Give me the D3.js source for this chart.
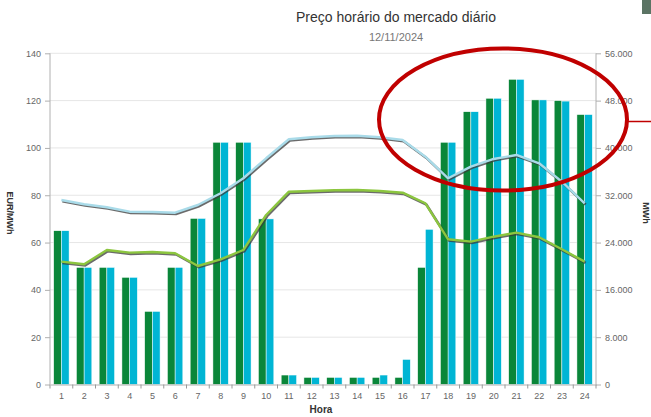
<!DOCTYPE html>
<html>
<head>
<meta charset="utf-8">
<script src="https://cdn.jsdelivr.net/npm/d3@7"></script>
<style>
  body { margin: 0; background: #fff; }
  svg { display: block; font-family: "Liberation Sans", Arial, sans-serif; }
</style>
</head>
<body>
<script>
/***********************************************************************************/
// Data

var horas = d3.range(1, 25);
var precoPT = [65, 49.5, 49.5, 45.3, 30.9, 49.5, 70.2, 102.4, 102.4, 70, 4, 3, 3, 3, 3, 3, 49.5, 102.4, 115.3, 121, 129, 120.3, 120, 114.1];
var precoES = [65, 49.5, 49.5, 45.3, 30.9, 49.5, 70.2, 102.4, 102.4, 70, 4, 3, 3, 3, 4, 10.6, 65.6, 102.4, 115.3, 121, 129, 120.3, 119.8, 114.1];
var energiaES = [31200, 30470, 29970, 29220, 29170, 29050, 30350, 32330, 34870, 38250, 41460, 41800, 42020, 42070, 41800, 41340, 38520, 34870, 36830, 38130, 38810, 37400, 34290, 30640];
var energiaPT = [20770, 20330, 22740, 22290, 22410, 22190, 20040, 21170, 22740, 28660, 32600, 32720, 32840, 32890, 32720, 32430, 30640, 24550, 24150, 24990, 25670, 24890, 22860, 20770];
var leftTicks = [0, 20, 40, 60, 80, 100, 120, 140];
var rightTicks = [0, 8000, 16000, 24000, 32000, 40000, 48000, 56000];

/***********************************************************************************/
// Setup

var W = 651, H = 417;
var m = { left: 50, right: 596, top: 53.3, bottom: 384.5 };
var svg = d3.select('body').append('svg').attr('width', W).attr('height', H);

var x = d3.scaleBand().domain(horas).range([m.left, m.right]);
var xs = d3.scaleBand().domain(['a', 'b']).range([0, 15.4]);
var yL = d3.scaleLinear().domain([0, 140]).range([m.bottom, m.top]);
var yR = d3.scaleLinear().domain([0, 56000]).range([m.bottom, m.top]);
var fmt = d3.formatLocale({ decimal: ',', thousands: '.', grouping: [3], currency: ['', ''] }).format(',');

/***********************************************************************************/
// Grid

svg.append('g').selectAll('line').data(leftTicks.slice(1)).enter().append('line')
  .attr('x1', m.left).attr('x2', m.right)
  .attr('y1', function(d){ return yL(d); }).attr('y2', function(d){ return yL(d); })
  .style('stroke', '#e6e6e6').style('stroke-width', 1);

/***********************************************************************************/
// Bars

var off = (x.bandwidth() - 15.4) / 2;
function drawBars(data, key, color){
  svg.append('g').selectAll('rect').data(data).enter().append('rect')
    .attr('x', function(d, i){ return x(horas[i]) + off + xs(key); })
    .attr('width', xs.bandwidth())
    .attr('y', function(d){ return yL(d); })
    .attr('height', function(d){ return yL(0) - yL(d); })
    .style('fill', color).style('stroke', '#fff').style('stroke-width', 0.5);
}
drawBars(precoPT, 'a', '#0a8639');
drawBars(precoES, 'b', '#00b5d4');

/***********************************************************************************/
// Lines

function drawLine(data, color){
  var line = d3.line().x(function(d, i){ return x(horas[i]) + x.bandwidth() / 2; }).y(function(d){ return yR(d); });
  svg.append('path').datum(data).attr('d', line).attr('transform', 'translate(1,1.2)')
    .style('fill', 'none').style('stroke', '#3a3a3a').style('stroke-opacity', 0.75).style('stroke-width', 2.6);
  svg.append('path').datum(data).attr('d', line)
    .style('fill', 'none').style('stroke', color).style('stroke-width', 2.4).style('stroke-linejoin', 'round');
}
drawLine(energiaES, '#a9dbe9');
drawLine(energiaPT, '#8cc63f');

/***********************************************************************************/
// Axes

var axL = svg.append('g').attr('transform', 'translate(' + m.left + ',0)')
  .call(d3.axisLeft(yL).tickValues(leftTicks).tickSize(5).tickPadding(4));
var axR = svg.append('g').attr('transform', 'translate(' + m.right + ',0)')
  .call(d3.axisRight(yR).tickValues(rightTicks).tickSize(5).tickPadding(4).tickFormat(fmt));
var axB = svg.append('g').attr('transform', 'translate(0,' + m.bottom + ')')
  .call(d3.axisBottom(x).tickSize(0).tickPadding(8));

[axL, axR, axB].forEach(function(a){
  a.select('.domain').style('stroke', '#b0b0b0');
  a.selectAll('.tick line').style('stroke', '#b0b0b0');
  a.selectAll('text').style('fill', '#666').style('font-size', '9px').style('font-family', '"Liberation Sans", Arial, sans-serif');
});
axL.select('.domain').attr('d', 'M0,' + m.bottom + 'V' + m.top);
axR.select('.domain').attr('d', 'M0,' + m.bottom + 'V' + m.top);

svg.append('g').selectAll('line').data(d3.range(0, 25)).enter().append('line')
  .attr('x1', function(d){ return m.left + d * x.step(); }).attr('x2', function(d){ return m.left + d * x.step(); })
  .attr('y1', m.bottom).attr('y2', m.bottom + 4)
  .style('stroke', '#999').style('stroke-width', 1);

/***********************************************************************************/
// Titles

svg.append('text').attr('x', 396).attr('y', 22).attr('text-anchor', 'middle')
  .style('font-size', '14px').style('fill', '#333').text('Preço horário do mercado diário');
svg.append('text').attr('x', 396).attr('y', 41).attr('text-anchor', 'middle')
  .style('font-size', '11px').style('fill', '#777').text('12/11/2024');
svg.append('text').attr('transform', 'translate(7,213) rotate(90)').attr('text-anchor', 'middle')
  .style('font-size', '9px').style('font-weight', 'bold').style('fill', '#333').text('EUR/MWh');
svg.append('text').attr('transform', 'translate(643,213) rotate(90)').attr('text-anchor', 'middle')
  .style('font-size', '9px').style('font-weight', 'bold').style('fill', '#333').text('MWh');
svg.append('text').attr('x', 321).attr('y', 413).attr('text-anchor', 'middle')
  .style('font-size', '10px').style('font-weight', 'bold').style('fill', '#333').text('Hora');

/***********************************************************************************/
// Annotation

svg.append('ellipse').attr('cx', 503).attr('cy', 119.5).attr('rx', 124).attr('ry', 71)
  .style('fill', 'none').style('stroke', '#c00000').style('stroke-width', 4);
svg.append('line').attr('x1', 627).attr('x2', 651).attr('y1', 121.5).attr('y2', 121.5)
  .style('stroke', '#c00000').style('stroke-width', 1.5);
svg.append('rect').attr('x', 642).attr('y', 0).attr('width', 9).attr('height', 14).style('fill', '#5b7464');
</script>
</body>
</html>
